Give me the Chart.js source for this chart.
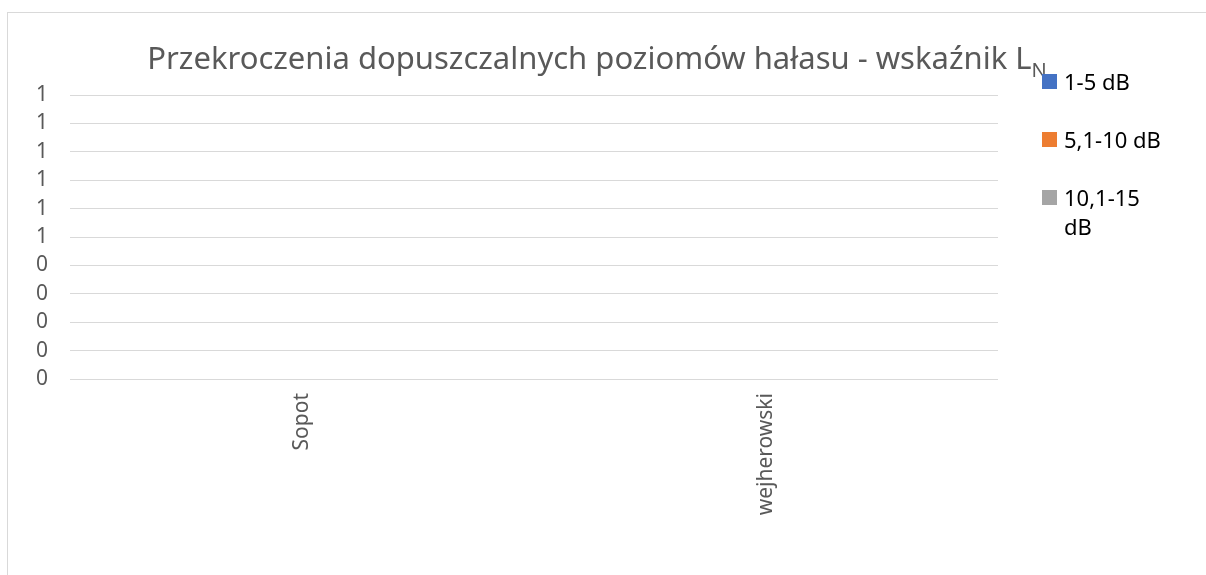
<!DOCTYPE html>
<html>
<head>
<meta charset="utf-8">
<script src="https://cdn.jsdelivr.net/npm/chart.js@4"></script>
<style>
  body { margin: 0; background: #fff; }
  #wrap { position: relative; width: 1206px; height: 575px; overflow: hidden; font-family: "Noto Sans", sans-serif; }
  #frame { position: absolute; left: 7px; top: 12px; width: 1240px; height: 620px; border: 1px solid #d9d9d9; box-sizing: border-box; }
  #myChart { position: absolute; left: 0; top: 0; }
  #legend { position: absolute; left: 1042px; top: 0; width: 160px; }
  .item { position: absolute; left: 0; display: flex; align-items: flex-start; font-size: 22px; line-height: 29px; color: #000; }
  .item span.box { width: 15px; height: 15px; margin-top: 7px; margin-right: 7px; flex: none; }
  .item span.txt { width: 104px; }
</style>
</head>
<body>
<div id="wrap">
  <div id="frame"></div>
  <canvas id="myChart" width="1206" height="575"></canvas>
  <div id="legend"></div>
</div>
<script>
const categories = ["Sopot", "wejherowski"];
const seriesNames = ["1-5 dB", "5,1-10 dB", "10,1-15 dB"];
const seriesColors = ["#4472C4", "#ED7D31", "#A5A5A5"];
const series1 = [0, 0];
const series2 = [0, 0];
const series3 = [0, 0];
const yTicks = [0, 0.1, 0.2, 0.3, 0.4, 0.5, 0.6, 0.7, 0.8, 0.9, 1];
const titleMain = "Przekroczenia dopuszczalnych poziomów hałasu - wskaźnik L";
const titleSub = "N";

// legend as html so the last entry can wrap like the original
let legendTops = [67, 125, 183];
let legendDiv = document.getElementById("legend");
seriesNames.forEach((name, i) => {
  let item = document.createElement("div");
  item.className = "item";
  item.style.top = legendTops[i] + "px";
  item.innerHTML = '<span class="box" style="background:' + seriesColors[i] + '"></span><span class="txt">' + name + "</span>";
  legendDiv.appendChild(item);
});

const titlePlugin = {
  id: "titleWithSub",
  afterDraw(chart) {
    const ctx = chart.ctx;
    ctx.save();
    ctx.fillStyle = "#595959";
    ctx.textBaseline = "alphabetic";
    ctx.font = '31px "Noto Sans"';
    const w1 = ctx.measureText(titleMain).width;
    ctx.font = '20px "Noto Sans"';
    const w2 = ctx.measureText(titleSub).width;
    let x = 597 - (w1 + w2) / 2;
    ctx.font = '31px "Noto Sans"';
    ctx.fillText(titleMain, x, 69);
    ctx.font = '20px "Noto Sans"';
    ctx.fillText(titleSub, x + w1, 77);
    ctx.restore();
  }
};

let ctx = document.getElementById("myChart").getContext("2d");
let chart = new Chart(ctx, {
  type: "bar",
  data: {
    labels: categories,
    datasets: [
      { label: seriesNames[0], backgroundColor: seriesColors[0], data: series1 },
      { label: seriesNames[1], backgroundColor: seriesColors[1], data: series2 },
      { label: seriesNames[2], backgroundColor: seriesColors[2], data: series3 }
    ]
  },
  options: {
    responsive: false,
    animation: false,
    layout: { padding: { top: 95, right: 208, left: 0, bottom: 0 } },
    plugins: {
      legend: { display: false },
      title: { display: false },
      tooltip: { enabled: false }
    },
    scales: {
      x: {
        grid: { display: false, drawTicks: false },
        border: { display: false },
        ticks: {
          minRotation: 90,
          maxRotation: 90,
          padding: 14,
          color: "#595959",
          font: { family: "Noto Sans", size: 21 }
        },
        afterFit(scale) { scale.height = 196; }
      },
      y: {
        min: 0,
        max: 1,
        afterBuildTicks(scale) { scale.ticks = yTicks.map(v => ({ value: v })); },
        grid: { color: "#d9d9d9", lineWidth: 1, drawTicks: false },
        border: { display: false },
        ticks: {
          padding: 22,
          color: "#595959",
          font: { family: "Noto Sans", size: 21 },
          callback: value => Math.round(value).toString()
        },
        afterFit(scale) { scale.width = 70; }
      }
    }
  },
  plugins: [titlePlugin]
});
</script>
</body>
</html>
